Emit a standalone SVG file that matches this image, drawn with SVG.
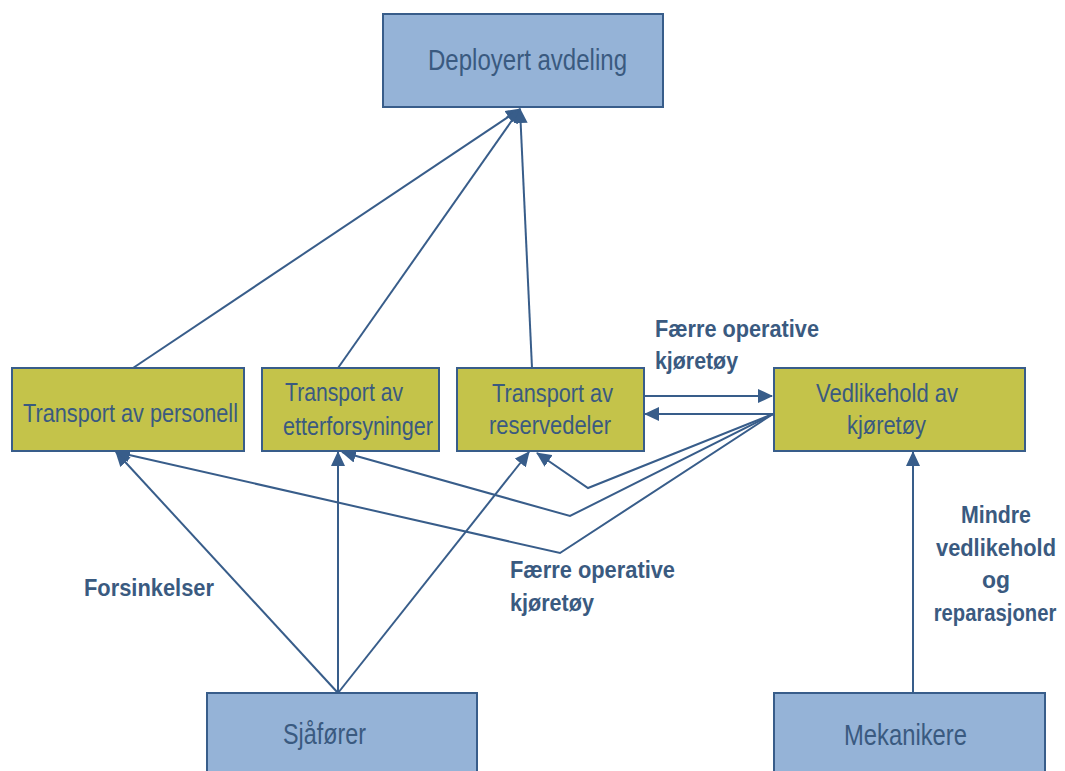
<svg xmlns="http://www.w3.org/2000/svg" width="1065" height="771" viewBox="0 0 1065 771">
<style>
.blue{fill:#95B3D7;stroke:#385D8A;stroke-width:2}
.olive{fill:#C4C34A;stroke:#385D8A;stroke-width:2}
.t{font-family:"Liberation Sans Narrow","Liberation Sans",Arial,sans-serif;fill:#3A5A80;text-anchor:middle}
.big{font-size:29px}
.mid{font-size:25px}
.lbl{font-family:"Liberation Sans Narrow","Liberation Sans",Arial,sans-serif;fill:#3A5A80;font-weight:bold;font-size:23px}
.c{fill:none;stroke:#385D8A;stroke-width:2}
</style>
<defs>
<marker id="ah" viewBox="0 0 15 14" refX="14" refY="7" markerWidth="15" markerHeight="14" markerUnits="userSpaceOnUse" orient="auto">
<path d="M0,0 L15,7 L0,14 z" fill="#385D8A"/>
</marker>
</defs>
<rect width="1065" height="771" fill="#fff"/>
<g id="connectors">
<path class="c" d="M133,368 L520,109" marker-end="url(#ah)"/>
<path class="c" d="M338,368 L520,109" marker-end="url(#ah)"/>
<path class="c" d="M532,368 L520,109" marker-end="url(#ah)"/>
<path class="c" d="M338,693 L116,452" marker-end="url(#ah)"/>
<path class="c" d="M338,693 L338,452" marker-end="url(#ah)"/>
<path class="c" d="M338,693 L529,452" marker-end="url(#ah)"/>
<path class="c" d="M645,396 L772,396" marker-end="url(#ah)"/>
<path class="c" d="M773,414 L645,414" marker-end="url(#ah)"/>
<path class="c" d="M773,414 L588,488 L537,453" marker-end="url(#ah)"/>
<path class="c" d="M773,414 L570,516 L342,452" marker-end="url(#ah)"/>
<path class="c" d="M773,414 L560,553 L116,452" marker-end="url(#ah)"/>
<path class="c" d="M913,693 L913,452" marker-end="url(#ah)"/>
</g>
<g id="deployert">
<rect class="blue" x="383" y="14" width="280" height="93"/>
<text class="t big" x="527.5" y="70" textLength="199" lengthAdjust="spacingAndGlyphs">Deployert avdeling</text>
</g>
<g id="personell">
<rect class="olive" x="12" y="368" width="232" height="83"/>
<text class="t mid" x="130.5" y="422" textLength="215" lengthAdjust="spacingAndGlyphs">Transport av personell</text>
</g>
<g id="etterforsyninger">
<rect class="olive" x="262" y="368" width="177" height="83"/>
<text class="t mid" x="344" y="401" textLength="118" lengthAdjust="spacingAndGlyphs">Transport av</text>
<text class="t mid" x="358" y="435" textLength="150" lengthAdjust="spacingAndGlyphs">etterforsyninger</text>
</g>
<g id="reservedeler">
<rect class="olive" x="457" y="368" width="187" height="83"/>
<text class="t mid" x="552.5" y="402" textLength="121" lengthAdjust="spacingAndGlyphs">Transport av</text>
<text class="t mid" x="550" y="434" textLength="122" lengthAdjust="spacingAndGlyphs">reservedeler</text>
</g>
<g id="vedlikehold">
<rect class="olive" x="774" y="368" width="251" height="83"/>
<text class="t mid" x="887" y="402" textLength="142" lengthAdjust="spacingAndGlyphs">Vedlikehold av</text>
<text class="t mid" x="886.5" y="434" textLength="79" lengthAdjust="spacingAndGlyphs">kjøretøy</text>
</g>
<g id="sjaforer">
<rect class="blue" x="207" y="693" width="270" height="90"/>
<text class="t big" x="324.5" y="744" textLength="83" lengthAdjust="spacingAndGlyphs">Sjåfører</text>
</g>
<g id="mekanikere">
<rect class="blue" x="774" y="693" width="271" height="90"/>
<text class="t big" x="905.5" y="745" textLength="123" lengthAdjust="spacingAndGlyphs">Mekanikere</text>
</g>
<g id="labels">
<text class="lbl" x="655" y="337" textLength="164" lengthAdjust="spacingAndGlyphs">Færre operative</text>
<text class="lbl" x="655" y="369" textLength="83" lengthAdjust="spacingAndGlyphs">kjøretøy</text>
<text class="lbl" x="84" y="596" textLength="130" lengthAdjust="spacingAndGlyphs">Forsinkelser</text>
<text class="lbl" x="510" y="578" textLength="165" lengthAdjust="spacingAndGlyphs">Færre operative</text>
<text class="lbl" x="510" y="611" textLength="84" lengthAdjust="spacingAndGlyphs">kjøretøy</text>
<text class="lbl" x="996" y="523" text-anchor="middle" textLength="70" lengthAdjust="spacingAndGlyphs">Mindre</text>
<text class="lbl" x="996" y="556" text-anchor="middle" textLength="120" lengthAdjust="spacingAndGlyphs">vedlikehold</text>
<text class="lbl" x="996" y="588" text-anchor="middle" textLength="28" lengthAdjust="spacingAndGlyphs">og</text>
<text class="lbl" text-anchor="middle" transform="translate(995,621) scale(0.88,1)" x="0" y="0">reparasjoner</text>
</g>
</svg>
